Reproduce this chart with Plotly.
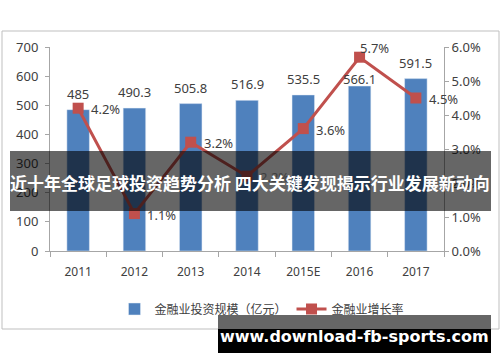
import plotly.graph_objects as go

years = ["2011", "2012", "2013", "2014", "2015E", "2016", "2017"]
invest = [485, 490.3, 505.8, 516.9, 535.5, 566.1, 591.5]
growth = [4.2, 1.1, 3.2, 2.2, 3.6, 5.7, 4.5]
invest_labels = ["485", "490.3", "505.8", "516.9", "535.5", "566.1", "591.5"]
growth_labels = ["4.2%", "1.1%", "3.2%", "2.2%", "3.6%", "5.7%", "4.5%"]
bar_name = "金融业投资规模（亿元）"
line_name = "金融业增长率"
title_text = "近十年全球足球投资趋势分析 四大关键发现揭示行业发展新动向"
watermark = "www.download-fb-sports.com"

W, H = 500, 362
L, R, T, B = 50, 444, 47, 251

def px(x):
    return (x - L) / (R - L)

def py(y):
    return (B - y) / (B - T)

FONT = "Noto Sans, Noto Sans CJK SC, sans-serif"
TXT = "#404040"

fig = go.Figure()
fig.add_trace(go.Bar(x=years, y=invest, name=bar_name, marker_color="#4f81bd",
                     width=0.4, yaxis="y"))
fig.add_trace(go.Scatter(x=years, y=growth, name=line_name, mode="lines+markers",
                         line=dict(color="#c0504d", width=3),
                         marker=dict(symbol="square", size=11, color="#c0504d"),
                         yaxis="y2"))

ann = []
for i, (x, v, t) in enumerate(zip(years, invest, invest_labels)):
    ann.append(dict(x=i, y=v, xref="x", yref="y", text=t, showarrow=False,
                    yanchor="bottom", yshift=(-4 if x == "2016" else 5),
                    font=dict(size=13, color=TXT, family=FONT)))
for i, (x, v, t) in enumerate(zip(years, growth, growth_labels)):
    if x == "2016":
        ann.append(dict(x=i, y=v, xref="x", yref="y2", text=t, showarrow=False,
                        xanchor="left", yanchor="middle", xshift=-2, yshift=9,
                        font=dict(size=13, color=TXT, family=FONT)))
    else:
        ann.append(dict(x=i, y=v, xref="x", yref="y2", text=t, showarrow=False,
                        xanchor="left", yanchor="middle", xshift=11, yshift=-1,
                        font=dict(size=13, color=TXT, family=FONT)))

ann.append(dict(x=px(250), y=py(182), xref="paper", yref="paper", text="<b>" + title_text + "</b>",
                xanchor="center", yanchor="middle", showarrow=False,
                font=dict(size=17, color="white", family="Noto Sans CJK SC")))
ann.append(dict(x=px(354), y=py(336), xref="paper", yref="paper", text="<b>" + watermark + "</b>",
                xanchor="center", yanchor="middle", showarrow=False,
                font=dict(size=16, color="white", family="DejaVu Sans")))

shapes = [
    dict(type="rect", xref="paper", yref="paper", x0=px(2), x1=px(499), y0=py(329), y1=py(31),
         line=dict(color="#bfbfbf", width=1), layer="below"),
    dict(type="rect", xref="paper", yref="paper", x0=px(10), x1=px(491), y0=py(211), y1=py(151),
         fillcolor="rgba(0,0,0,0.6)", line=dict(width=0), layer="above"),
    dict(type="rect", xref="paper", yref="paper", x0=px(218), x1=px(491), y0=py(329), y1=py(315),
         fillcolor="#666666", line=dict(width=0), layer="above"),
    dict(type="rect", xref="paper", yref="paper", x0=px(218), x1=px(491), y0=py(353), y1=py(329),
         fillcolor="#000000", line=dict(width=0), layer="above"),
]

fig.update_layout(
    width=W, height=H,
    margin=dict(l=L, r=W - R, t=T, b=H - B, autoexpand=False),
    paper_bgcolor="white", plot_bgcolor="white",
    font=dict(family=FONT, color=TXT, size=13),
    showlegend=True,
    legend=dict(orientation="h", x=px(262), y=py(309), xanchor="center", yanchor="middle",
                bgcolor="rgba(0,0,0,0)",
                font=dict(size=12, color=TXT, family=FONT), traceorder="normal"),
    xaxis=dict(type="category", categoryorder="array", categoryarray=years,
               range=[-0.5, 6.5], autorange=False, showgrid=False, showline=True,
               linecolor="#a6a6a6", ticks="outside", tickson="boundaries", ticklen=5,
               tickcolor="#a6a6a6", tickangle=0, ticklabelstandoff=10,
               tickfont=dict(size=12, color=TXT)),
    yaxis=dict(range=[0, 700], dtick=100, showgrid=False, showline=True, linecolor="#a6a6a6",
               ticks="outside", ticklen=4, tickcolor="#a6a6a6", zeroline=False,
               ticklabelstandoff=4, tickfont=dict(size=13, color=TXT)),
    yaxis2=dict(range=[0, 6], dtick=1, overlaying="y", side="right", showgrid=False,
                showline=True, linecolor="#a6a6a6", ticks="outside", ticklen=4,
                tickcolor="#a6a6a6", tickformat=".1f", ticksuffix="%", zeroline=False,
                tickfont=dict(size=13, color=TXT)),
    annotations=ann, shapes=shapes,
)
fig.write_html("out.html", config={"displayModeBar": False},
               post_script="document.body.style.margin='0';document.body.style.overflow='hidden';")
